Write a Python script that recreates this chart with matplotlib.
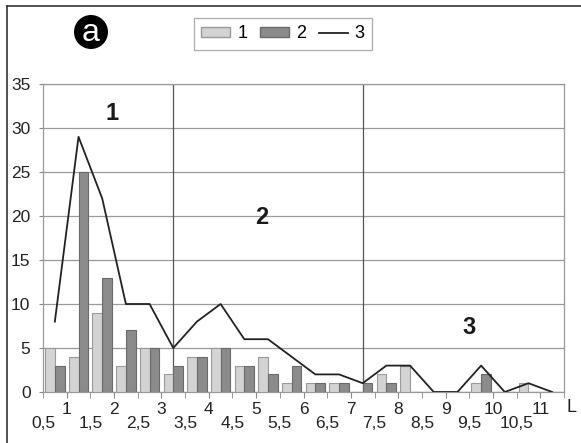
import numpy as np
import matplotlib
matplotlib.use("Agg")
import matplotlib.pyplot as plt
from matplotlib.patches import Ellipse
from matplotlib.lines import Line2D

plt.rcParams["font.family"] = ["Liberation Sans", "DejaVu Sans"]

# class lower bounds (width 0.5) and counts per class
bins_lo = [0.5, 1.0, 1.5, 2.0, 2.5, 3.0, 3.5, 4.0, 4.5, 5.0, 5.5,
           6.0, 6.5, 7.0, 7.5, 8.0, 8.5, 9.0, 9.5, 10.0, 10.5, 11.0]
series1 = [5, 4, 9, 3, 5, 2, 4, 5, 3, 4, 1, 1, 1, 0, 2, 3, 0, 0, 1, 0, 1, 0]
series2 = [3, 25, 13, 7, 5, 3, 4, 5, 3, 2, 3, 1, 1, 1, 1, 0, 0, 0, 2, 0, 0, 0]
series3 = [8, 29, 22, 10, 10, 5, 8, 10, 6, 6, 4, 2, 2, 1, 3, 3, 0, 0, 3, 0, 1, 0]
zone_bounds = [3.25, 7.25]
zone_labels = ["1", "2", "3"]
zone_pos = [(1.96, 31.7), (5.12, 19.8), (9.5, 7.3)]

step = 0.5
x = np.array(bins_lo)
centers = x + step / 2
w = 0.205

fig = plt.figure(figsize=(5.81, 4.43), dpi=100)
ax = fig.add_axes([43 / 581, 1 - 392 / 443, (564 - 43) / 581, (392 - 84) / 443])

light = "#d3d3d3"
dark = "#8b8b8b"
ax.bar(centers - w / 2, series1, width=w, color=light, edgecolor="#9a9a9a", linewidth=0.8, zorder=3)
ax.bar(centers + w / 2, series2, width=w, color=dark, edgecolor="#6a6a6a", linewidth=0.8, zorder=3)
ax.plot(centers, series3, color="#222222", lw=1.3, zorder=4)

for xb in zone_bounds:
    ax.axvline(xb, color="#555555", lw=0.9, zorder=2)
for lab, (tx, ty) in zip(zone_labels, zone_pos):
    ax.text(tx, ty, lab, fontsize=17, fontweight="bold", ha="center", va="center", color="#1a1a1a")

ax.set_xlim(0.5, 11.5)
ax.set_ylim(0, 35)
ax.set_yticks(np.arange(0, 36, 5))
ax.yaxis.grid(True, color="#9a9a9a", lw=0.9, zorder=0)
ax.set_axisbelow(True)
ax.tick_params(axis="y", length=3, color="#888888", labelsize=12.5, pad=6, labelcolor="#222222")

ints = np.arange(1, 12)
halves = np.arange(0.5, 11.6, 1.0)
ax.set_xticks(ints)
ax.set_xticklabels([str(v) for v in ints])
ax.set_xticks(halves, minor=True)
ax.set_xticklabels([("%g" % v).replace(".", ",") if v < 11.5 else "" for v in halves], minor=True)
ax.tick_params(axis="x", which="major", length=4, color="#888888", labelsize=12.5, pad=3, labelcolor="#222222")
ax.tick_params(axis="x", which="minor", length=4, color="#888888", labelsize=12.5, pad=13, labelcolor="#222222")

for s in ax.spines.values():
    s.set_color("#999999")
    s.set_linewidth(0.9)

fig.text(572 / 581, 1 - 408 / 443, "L", fontsize=13, ha="center", va="center", color="#222222")

# legend
handles = [plt.Rectangle((0, 0), 1, 1, fc=light, ec="#9a9a9a"),
           plt.Rectangle((0, 0), 1, 1, fc=dark, ec="#6a6a6a"),
           Line2D([], [], color="#222222", lw=1.3)]
leg = fig.legend(handles, ["1", "2", "3"], loc="center", bbox_to_anchor=(283 / 581, 1 - 34 / 443),
                 ncol=3, frameon=True, fancybox=False, fontsize=13, handlelength=1.6, handleheight=0.5,
                 handletextpad=0.4, columnspacing=0.7, borderpad=0.4)
leg.get_frame().set_edgecolor("#999999")
leg.get_frame().set_linewidth(0.9)

# panel badge
fig.add_artist(Ellipse((91 / 581, 1 - 32 / 443), 34 / 581, 34 / 443, transform=fig.transFigure,
                       facecolor="black", edgecolor="none"))
fig.text(91 / 581, 1 - 33 / 443, "a", fontsize=23, color="white", ha="center", va="center")

# outer border (left and top)
fig.add_artist(Line2D([7 / 581, 7 / 581], [0, 1 - 6 / 443], transform=fig.transFigure, color="#333333", lw=1.2))
fig.add_artist(Line2D([7 / 581, 1], [1 - 6 / 443, 1 - 6 / 443], transform=fig.transFigure, color="#333333", lw=1.2))

fig.savefig("out.png", dpi=100)
